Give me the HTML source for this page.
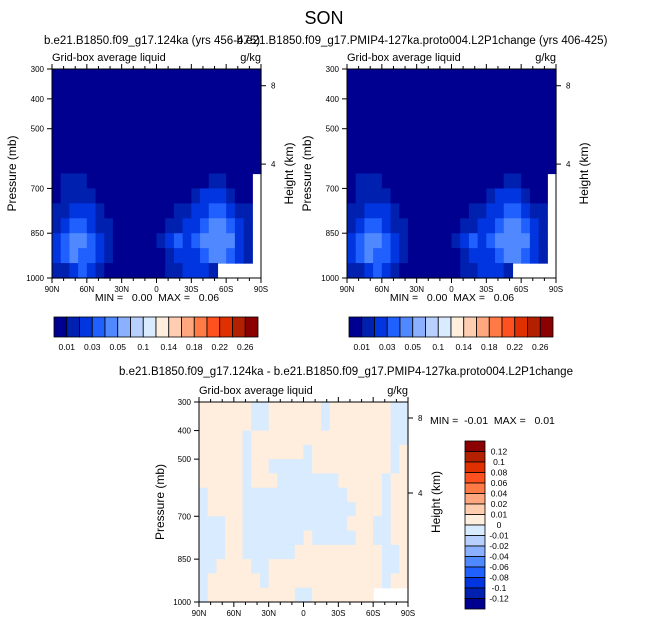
<!DOCTYPE html>
<html><head><meta charset="utf-8"><style>
body{margin:0;background:#fff;}
svg{display:block;font-family:"Liberation Sans",sans-serif;}
text{white-space:pre;}
</style></head><body>
<svg id="c" width="648" height="634" viewBox="0 0 648 634">
<text x="324" y="24" font-size="18" text-anchor="middle">SON</text>
<text x="152" y="44" font-size="11.5" text-anchor="middle">b.e21.B1850.f09_g17.124ka (yrs 456-475)</text>
<text x="422" y="44" font-size="11.5" text-anchor="middle">b.e21.B1850.f09_g17.PMIP4-127ka.proto004.L2P1change (yrs 406-425)</text>
<text x="346" y="375" font-size="11.5" text-anchor="middle">b.e21.B1850.f09_g17.124ka - b.e21.B1850.f09_g17.PMIP4-127ka.proto004.L2P1change</text>
</svg>
<script>
// pressure row centers (mb) and latitude columns (24 x 7.5 deg, 90N -> 90S)
const pressures=[325,375,425,475,525,575,625,675,725,775,825,875,925,975];
const xTickLabels=["90N","60N","30N","0","30S","60S","90S"];
const pTicks=[300,400,500,700,850,1000];
const levelsTop=[0.01,0.02,0.03,0.04,0.05,0.07,0.1,0.12,0.14,0.16,0.18,0.2,0.22,0.24,0.26];
const cbTopLabels=["0.01","0.03","0.05","0.1","0.14","0.18","0.22","0.26"];
const cbDiffLabels=["0.12","0.1","0.08","0.06","0.04","0.02","0.01","0","-0.01","-0.02","-0.04","-0.06","-0.08","-0.1","-0.12"];
const levelsDiff=[-0.12,-0.1,-0.08,-0.06,-0.04,-0.02,-0.01,0,0.01,0.02,0.04,0.06,0.08,0.1,0.12];
const colors=["#000090","#0020b0","#0035e0","#2060ff","#5088ff","#8ab0ff","#b8d0ff","#d8ebff","#ffeedd","#ffcdb0","#ffa880","#ff7a45","#ff5020","#e03000","#b22000","#8b0000"];
const N=null;
// liquid water (g/kg), rows = pressures, cols = latitude
const liquid=[
[0,0,0,0,0,0,0,0,0,0,0,0,0,0,0,0,0,0,0,0,0,0,0,0],
[0,0,0,0,0,0,0,0,0,0,0,0,0,0,0,0,0,0,0,0,0,0,0,0],
[0,0,0,0,0,0,0,0,0,0,0,0,0,0,0,0,0,0,0,0,0,0,0,0],
[0,0,0,0,0,0,0,0,0,0,0,0,0,0,0,0,0,0,0,0,0,0,0,0],
[0,0,0,0,0,0,0,0,0,0,0,0,0,0,0,0,0,0,0,0,0,0,0,0],
[0,0,0,0,0,0,0,0,0,0,0,0,0,0,0,0,0,0,0,0,0,0,0,0],
[0,0,0,0,0,0,0,0,0,0,0,0,0,0,0,0,0,0,0,0,0,0,0,0],
[0,.015,.015,.015,0,0,0,0,0,0,0,0,0,0,0,0,0,0,.015,.015,0,0,0,N],
[0,.015,.015,.015,.015,0,0,0,0,0,0,0,0,0,0,0,.015,.025,.025,.025,.015,0,0,N],
[.015,.015,.025,.025,.025,.015,0,0,0,0,0,0,0,0,.015,.015,.025,.025,.035,.035,.025,.015,.015,N],
[.015,.025,.035,.035,.025,.015,.015,0,0,0,0,0,0,.015,.015,.025,.025,.035,.045,.045,.035,.025,.015,N],
[.025,.035,.045,.045,.035,.025,.015,0,0,0,0,0,.015,.025,.035,.025,.035,.045,.045,.045,.045,.025,.015,N],
[.025,.035,.045,.035,.035,.025,.015,0,0,0,0,0,0,.015,.025,.025,.025,.035,.045,.045,.035,.025,.015,N],
[.015,.015,.025,.035,.025,.015,0,0,0,0,0,0,0,.015,.015,.025,.025,.025,.015,N,N,N,N,N]
];
// difference (g/kg)
const diff=[
[.005,.005,.005,.005,.005,.005,-.005,-.005,.005,.005,.005,.005,.005,.005,-.005,.005,.005,.005,.005,.005,.005,.005,-.005,-.005],
[.005,.005,.005,.005,.005,.005,-.005,-.005,.005,.005,.005,.005,.005,.005,-.005,.005,.005,.005,.005,.005,.005,.005,-.005,-.005],
[.005,.005,.005,.005,.005,-.005,.005,.005,.005,.005,.005,.005,.005,.005,.005,.005,.005,.005,.005,.005,.005,.005,-.005,-.005],
[.005,.005,.005,.005,.005,-.005,.005,.005,.005,.005,.005,.005,-.005,.005,.005,.005,.005,.005,.005,.005,.005,.005,-.005,.005],
[.005,.005,.005,.005,.005,-.005,.005,.005,-.005,-.005,-.005,-.005,-.005,.005,.005,.005,.005,.005,.005,.005,.005,.005,-.005,.005],
[.005,.005,.005,.005,.005,-.005,.005,.005,.005,-.005,-.005,-.005,-.005,-.005,-.005,-.005,.005,.005,.005,.005,.005,-.005,.005,.005],
[-.005,.005,.005,.005,.005,-.005,-.005,-.005,-.005,-.005,-.005,-.005,-.005,-.005,-.005,-.005,-.005,.005,.005,.005,.005,-.005,.005,.005],
[-.005,.005,.005,.005,.005,-.005,-.005,-.005,-.005,-.005,-.005,-.005,-.005,-.005,-.005,-.005,-.005,-.005,.005,.005,.005,-.005,.005,.005],
[-.005,-.005,-.005,.005,.005,-.005,-.005,-.005,-.005,-.005,-.005,-.005,-.005,-.005,-.005,-.005,-.005,.005,.005,.005,-.005,-.005,.005,.005],
[-.005,-.005,-.005,.005,.005,-.005,-.005,-.005,-.005,-.005,-.005,-.005,.005,-.005,-.005,-.005,-.005,-.005,.005,.005,-.005,-.005,.005,.005],
[-.005,-.005,-.005,.005,.005,-.005,-.005,-.005,-.005,-.005,-.005,.005,.005,.005,.005,.005,.005,.005,.005,.005,.005,-.005,-.005,.005],
[-.005,-.005,.005,.005,.005,.005,-.005,-.005,.005,.005,.005,.005,.005,.005,.005,.005,.005,.005,.005,.005,.005,-.005,-.005,.005],
[-.005,.005,.005,.005,.005,.005,.005,-.005,.005,.005,.005,.005,.005,.005,.005,.005,.005,.005,.005,.005,.005,-.005,.005,.005],
[-.005,.005,.005,.005,.005,.005,.005,.005,.005,.005,.005,-.005,-.005,.005,.005,.005,.005,.005,.005,.005,N,N,N,N]
];
const NS="http://www.w3.org/2000/svg";
const svg=document.getElementById('c');
function mk(tag,attrs,parent){const e=document.createElementNS(NS,tag);for(const k in attrs)e.setAttribute(k,attrs[k]);(parent||svg).appendChild(e);return e;}
function txt(x,y,s,size,anchor,parent){const t=mk('text',{x:x,y:y,'font-size':size,'text-anchor':anchor||'start'},parent);t.textContent=s;return t;}
function colorIdx(v,levels){let i=0;while(i<levels.length&&v>=levels[i])i++;return i;}

function panel(name,x0,y0,w,h,grid,levels,minmax,mmx,mmy,mmAnchor,ytitleX,htitleX){
  const g=mk('g',{});
  
  
  const xs=lat=>x0+(90-lat)/180*w;
  const ys=p=>y0+(p-300)/700*h;
  const cw=w/24;
  grid.forEach((row,r)=>{
    row.forEach((v,c)=>{
      if(v===null)return;
      const lat=90-c*7.5;
      const x=xs(lat), y=ys(pressures[r]-25);
      const cell=mk('rect',{x:x,y:y,width:cw+0.6,height:ys(pressures[r]+25)-y+0.6,fill:colors[colorIdx(v,levels)]},g);
      
      
    });
  });
  mk('rect',{x:x0,y:y0,width:w,height:h,fill:'none',stroke:'#000','stroke-width':1},g);
  for(let lat=90;lat>=-90;lat-=10){
    const major=lat%30===0, x=xs(lat), L=major?5:3;
    mk('line',{x1:x,y1:y0+h,x2:x,y2:y0+h+L,stroke:'#000'},g);
    mk('line',{x1:x,y1:y0,x2:x,y2:y0-L,stroke:'#000'},g);
  }
  xTickLabels.forEach((s,i)=>{const t=txt(xs(90-i*30),y0+h+14,s,8,'middle',g);});
  pTicks.forEach(p=>{const y=ys(p);mk('line',{x1:x0-5,y1:y,x2:x0,y2:y,stroke:'#000'},g);
    const t=txt(x0-8,y+3,String(p),8,'end',g);});
  [[8,0.08],[4,0.455]].forEach(([km,f])=>{const y=y0+f*h;mk('line',{x1:x0+w,y1:y,x2:x0+w+5,y2:y,stroke:'#000'},g);
    const t=txt(x0+w+10,y+3,String(km),8,'start',g);});
  let t=txt(x0,y0-8,'Grid-box average liquid',11,'start',g);
  t=txt(x0+w,y0-8,'g/kg',11,'end',g);
  t=txt(0,0,'Pressure (mb)',12,'middle',g);t.setAttribute('transform',`translate(${ytitleX},${y0+h/2}) rotate(-90)`);
  
  t=txt(0,0,'Height (km)',12,'middle',g);t.setAttribute('transform',`translate(${htitleX},${y0+h/2}) rotate(-90)`);
  
  t=txt(mmx,mmy,minmax,10.5,mmAnchor,g);
}
panel('left-contour-panel',52,69,209,209,liquid,levelsTop,'MIN =   0.00  MAX =   0.06',157,301,'middle',16,293);
panel('right-contour-panel',347,69,209,209,liquid,levelsTop,'MIN =   0.00  MAX =   0.06',452,301,'middle',311,588);
panel('diff-contour-panel',199,402,209,200,diff,levelsDiff,'MIN =  -0.01  MAX =   0.01',430,424,'start',164,440);

function hbar(name,x0,y0,w,h){
  const g=mk('g',{});
  const bw=w/16;
  colors.forEach((c,i)=>{const r=mk('rect',{x:x0+i*bw,y:y0,width:bw,height:h,fill:c,stroke:'#000','stroke-width':0.8},g);
    });
  cbTopLabels.forEach((s,i)=>{const t=txt(x0+(1+2*i)*bw,y0+h+13,s,8.5,'middle',g);});
}
hbar('left-colorbar',54,317,204,20);
hbar('right-colorbar',349,317,204,20);
(function(){
  const x0=465,y0=441,w=20,h=168,bh=h/16;
  const g=mk('g',{});
  colors.slice().reverse().forEach((c,i)=>{const r=mk('rect',{x:x0,y:y0+i*bh,width:w,height:bh,fill:c,stroke:'#000','stroke-width':0.8},g);
    });
  cbDiffLabels.forEach((s,i)=>{const t=txt(x0+w+14,y0+(i+1)*bh+3,s,8.5,'middle',g);});
})();
</script>
</body></html>
